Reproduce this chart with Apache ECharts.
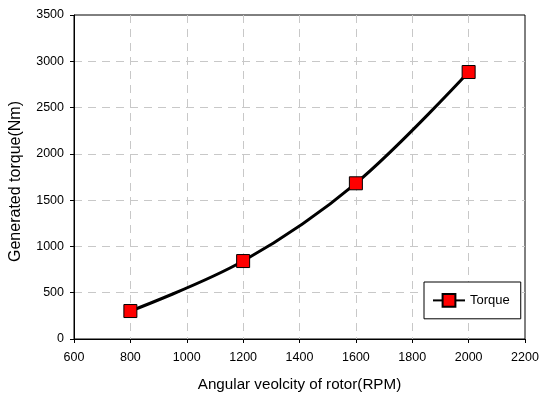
<!DOCTYPE html>
<html>
<head>
<meta charset="utf-8">
<style>
  html, body { margin: 0; padding: 0; background: #fff; }
  #chart { width: 539px; height: 394px; }
</style>
<script src="https://cdn.jsdelivr.net/npm/echarts@6/dist/echarts.min.js"></script>
</head>
<body>
<div id="chart"></div>
<script>
// Rotor speed (RPM) and generated torque (Nm)
const speedRpm = [800, 1200, 1600, 2000];
const torqueNm = [302, 842, 1682, 2884];
const seriesName = 'Torque';
const xTitle = 'Angular veolcity of rotor(RPM)';
const yTitle = 'Generated torque(Nm)';

const chart = echarts.init(document.getElementById('chart'), null, { renderer: 'canvas' });
const font = 'Liberation Sans, Arial, sans-serif';
const dashed = {
  show: true, showMinLine: false, showMaxLine: false,
  lineStyle: { color: '#c8c8c8', type: [8, 6], width: 1 }
};
const plain = v => String(v);

chart.setOption({
  animation: false,
  backgroundColor: '#fff',
  grid: {
    left: 74, top: 15, right: 14, bottom: 55,
    outerBoundsMode: 'none',
    show: true, borderColor: '#000', borderWidth: 1, backgroundColor: 'transparent'
  },
  xAxis: {
    type: 'value', min: 600, max: 2200, interval: 200,
    name: xTitle, nameLocation: 'middle', nameGap: 38,
    nameTextStyle: { fontFamily: font, fontSize: 15.2, color: '#000' },
    axisLine: { lineStyle: { color: '#000' } },
    axisTick: { show: true, length: 4, lineStyle: { color: '#000' } },
    axisLabel: { fontFamily: font, fontSize: 12.5, color: '#000', margin: 12, formatter: plain },
    splitLine: dashed
  },
  yAxis: {
    type: 'value', min: 0, max: 3500, interval: 500,
    axisLine: { show: true, lineStyle: { color: '#000' } },
    axisTick: { show: true, length: 4, lineStyle: { color: '#000' } },
    axisLabel: { fontFamily: font, fontSize: 12.5, color: '#000', margin: 10, formatter: plain },
    splitLine: dashed
  },
  graphic: [{
    type: 'text',
    x: 16, y: 181.5,
    rotation: Math.PI / 2,
    style: {
      text: yTitle, fontFamily: font, fontSize: 16, fill: '#000',
      align: 'center', verticalAlign: 'middle'
    }
  }],
  legend: {
    left: 424, top: 282,
    orient: 'vertical',
    backgroundColor: '#fff', borderColor: '#000', borderWidth: 1,
    padding: [11, 11, 11, 8],
    itemWidth: 32, itemHeight: 16, itemGap: 0,
    textStyle: { fontFamily: font, fontSize: 13, color: '#000' },
    data: [seriesName]
  },
  series: [{
    name: seriesName,
    type: 'line',
    data: speedRpm.map((x, i) => [x, torqueNm[i]]),
    smooth: 0.35,
    symbol: 'rect', symbolSize: 13,
    lineStyle: { color: '#000', width: 3 },
    itemStyle: { color: '#ff0000', borderColor: '#000', borderWidth: 1 },
    z: 5
  }]
});
</script>
</body>
</html>
